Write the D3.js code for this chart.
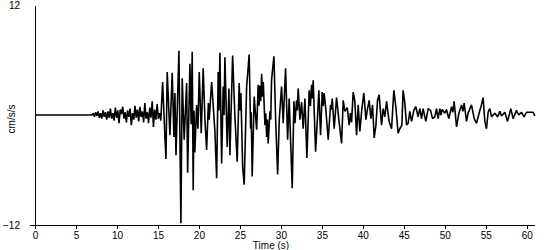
<!DOCTYPE html>
<html>
<head>
<meta charset="utf-8">
<script src="https://cdn.jsdelivr.net/npm/d3@7"></script>
<style>
  body { margin: 0; background: #fff; }
  svg text { font-family: Arial, "Liberation Sans", sans-serif; fill: #000; }
</style>
</head>
<body>
<script>
// accelerogram (time in s, accel in cm/s/s)
var times = [
  0, 7.0,
  7.1, 7.25, 7.4, 7.55, 7.7, 7.85, 8.0, 8.15, 8.3, 8.45, 8.6, 8.75, 8.9, 9.05,
  9.2, 9.35, 9.5, 9.65, 9.8, 9.95, 10.1, 10.25, 10.4, 10.55, 10.7, 10.85, 11.0,
  11.15, 11.3, 11.45, 11.6, 11.75, 11.9, 12.05, 12.2, 12.35, 12.5, 12.65, 12.8,
  12.95, 13.1, 13.25, 13.4, 13.55, 13.7, 13.85, 14.0, 14.15, 14.3, 14.45, 14.6,
  14.75, 14.9, 15.05, 15.2, 15.35,
  15.57, 15.85, 15.98, 16.13, 16.46, 16.74, 16.95, 17.07, 17.2, 17.56, 17.8,
  17.96, 18.2, 18.5, 18.62, 18.9, 19.05, 19.18, 19.3, 19.4, 19.5, 19.72, 19.88,
  20.04, 20.28, 20.52, 20.73, 20.94, 21.15, 21.25, 21.55, 21.95, 22.16, 22.35,
  22.45, 22.56, 22.77, 22.96, 23.06, 23.17, 23.45, 23.66, 23.78, 24.11, 24.39,
  24.67, 24.91, 25.0, 25.12, 25.33, 25.52, 25.82, 26.13,
  26.3, 26.38, 26.5, 26.74, 27.04, 27.23, 27.33, 27.44, 27.54, 27.65, 27.75,
  27.85, 28.05, 28.15, 28.26, 28.35, 28.45, 28.66, 28.76, 28.86, 29.15, 29.35,
  29.6, 29.8, 30.08, 30.28, 30.57, 30.82, 31.01, 31.38, 31.59, 31.71, 31.91,
  32.0, 32.11, 32.32, 32.52, 32.72, 32.93, 33.17, 33.45, 33.6, 33.74, 33.84,
  33.94, 34.23, 34.48, 34.63, 34.84, 35.04, 35.16, 35.28, 35.49, 35.77, 36.06,
  36.16, 36.26, 36.5, 36.79, 37.07, 37.4,
  37.6, 37.8, 38.09, 38.33, 38.48, 38.62, 38.82, 39.02, 39.23, 39.43, 39.63,
  39.88, 40.12, 40.37, 40.53, 40.77, 40.98, 41.18, 41.38, 41.59, 41.79, 41.99,
  42.28, 42.48, 42.68, 42.89, 43.2, 43.5, 43.78, 44.02, 44.3, 44.51, 44.76,
  44.91, 45.12, 45.33, 45.52, 45.73, 45.94, 46.22, 46.46, 46.74, 46.95, 47.16,
  47.35, 47.68, 47.96, 48.26, 48.5, 48.78,
  48.98, 49.18, 49.39, 49.53, 49.67, 50.0, 50.2, 50.49, 50.82, 50.98, 51.13,
  51.43, 51.71, 52.04, 52.2, 52.35, 52.65, 52.84, 53.25, 53.58, 53.86, 54.27,
  54.47, 54.67, 54.88, 55.08, 55.28, 55.49, 55.7, 56.1, 56.43, 56.71, 56.91,
  57.32, 57.65, 58.05, 58.33, 58.74, 59.02, 59.35, 59.67, 59.96, 60.24, 60.77,
  60.98
];
var accel = [
  0, 0,
  0.2, -0.2, 0.3, -0.1, 0.4, -0.3, 0.2, -0.4, 0.5, -0.2, 0.3, -0.5, 0.4, -0.3,
  0.7, -0.4, 0.2, -0.6, 0.8, -0.3, 0.5, -0.9, 0.6, 0.1, 0.9, -0.4, 0.3,
  -0.8, 0.5, -0.2, 0.7, -1.1, 0.2, -0.5, 1.0, -0.3, 0.6, -0.7, 0.9,
  -0.2, 0.4, -0.8, 1.3, -0.4, 0.3, -0.9, 0.8, -0.3, 1.5, -1.3, 0.6,
  -0.5, 1.2, -0.4, 0.2, -0.6,
  3.6, -2.4, -4.8, 4.7, -2.2, 4.6, -2.4, 2.4, -4.4, 7.0, -11.8,
  4.0, -2.7, 3.5, -6.3, 5.6, -1.0, 6.9, -8.2, 0.5, -4.1, 1.1, -1.5,
  4.7, -2.0, 5.1, -0.5, -3.8, 1.3, -0.5, 3.6, -1.8, -6.9, 4.7,
  0.5, 6.8, -5.3, 3.1, 0.0, 6.3, -3.5, 2.9, -4.4, 6.5, -0.2,
  -5.1, 3.5, 0.5, 2.4, -5.6, -7.6, 3.1, 6.6,
  -1.5, 0.3, -6.7, 2.0, -1.6, 3.3, 1.0, 3.2, 1.5, 4.5, 2.0,
  3.6, -1.1, 0.2, -2.4, -0.5, -3.1, 0.4, -0.5, 3.8, 6.4, -0.2,
  -6.5, -0.5, 3.1, -0.9, 5.1, -2.7, 1.8, -8.0, 1.5, -0.9, 1.6,
  0.5, 2.9, -0.5, 1.4, -1.5, 1.8, -4.7, 2.7, 1.0, 3.3, 1.8,
  3.8, -4.0, 0.0, 2.7, -2.2, 2.5, 1.0, 2.4, 0.5, -2.7, 1.1,
  0.6, 1.8, -1.5, 1.9, -0.5, -3.1,
  1.6, 0.4, 0.8, -1.1, 0.2, -0.8, 2.5, 1.5, -2.2, 1.1, -1.8,
  0.7, 2.4, -0.5, 0.5, 1.6, -0.4, 1.1, -2.5, -1.1, 1.6, 2.2,
  -1.1, 0.7, -0.2, 1.5, -0.7, -1.5, 2.7, 0.9, -2.0, -1.5, -1.1,
  2.7, 1.3, -1.1, -0.9, 0.4, -0.7, 0.5, 0.9, -0.2, 0.7, -0.4,
  0.7, -0.7, 0.7, 0.5, -0.4, -0.2,
  0.7, -0.4, 0.7, 0.0, 0.6, 0.2, 0.6, -0.4, 0.9, 0.3, 1.5,
  -1.3, 0.2, 1.1, 0.4, 1.3, -0.7, 0.2, 1.1, -0.4, -0.9, 0.5,
  1.1, 1.9, -0.7, -1.5, 0.3, 0.7, -0.2, 0.2, -0.2, 0.4, -0.1,
  0.3, -0.7, 0.7, -0.4, 0.5, 0.0, 0.3, -0.2, 0.3, 0.3, 0.3,
  -0.1
];
var xTicks = [0, 5, 10, 15, 20, 25, 30, 35, 40, 45, 50, 55, 60];
var yTicks = [-12, 12];

var w = 550;
var h = 250;
var plotLeft = 35, plotRight = 535, plotTop = 5, plotBottom = 225;

var x = d3.scaleLinear().domain([0, 61]).range([plotLeft, plotRight]);
var y = d3.scaleLinear().domain([-12, 12]).range([plotBottom, plotTop]);

var svg = d3
  .select("body")
  .append("svg")
  .attr("width", w)
  .attr("height", h);

// trace
var line = d3
  .line()
  .x(function(d, i) { return x(times[i]); })
  .y(function(d) { return y(d); });

svg
  .append("path")
  .datum(accel)
  .attr("d", line)
  .attr("fill", "none")
  .attr("stroke", "#000")
  .attr("stroke-width", 1.6)
  .attr("stroke-linejoin", "bevel");

// x axis
var xAxis = d3
  .axisBottom(x)
  .tickValues(xTicks)
  .tickSize(4)
  .tickSizeOuter(0)
  .tickPadding(3);

var gx = svg
  .append("g")
  .attr("transform", "translate(0," + plotBottom + ")")
  .call(xAxis);
gx.select(".domain").remove();
gx.append("line")
  .attr("x1", plotLeft - 5)
  .attr("x2", plotRight)
  .attr("stroke", "#000")
  .attr("shape-rendering", "crispEdges");
gx.selectAll(".tick line").attr("shape-rendering", "crispEdges");
gx.selectAll("text").style("font-size", "10px");

// y axis
var yAxis = d3
  .axisLeft(y)
  .tickValues(yTicks)
  .tickSize(0)
  .tickPadding(15);

var gy = svg
  .append("g")
  .attr("transform", "translate(" + plotLeft + ",0)")
  .call(yAxis);
gy.select(".domain").attr("shape-rendering", "crispEdges");
gy.selectAll("text").style("font-size", "10px");

// axis titles
svg
  .append("text")
  .attr("x", 271)
  .attr("y", 249)
  .attr("text-anchor", "middle")
  .style("font-size", "10px")
  .text("Time (s)");

svg
  .append("text")
  .attr("transform", "translate(15,119) rotate(-90)")
  .attr("text-anchor", "middle")
  .style("font-size", "10px")
  .text("cm/s/s");
</script>
</body>
</html>
